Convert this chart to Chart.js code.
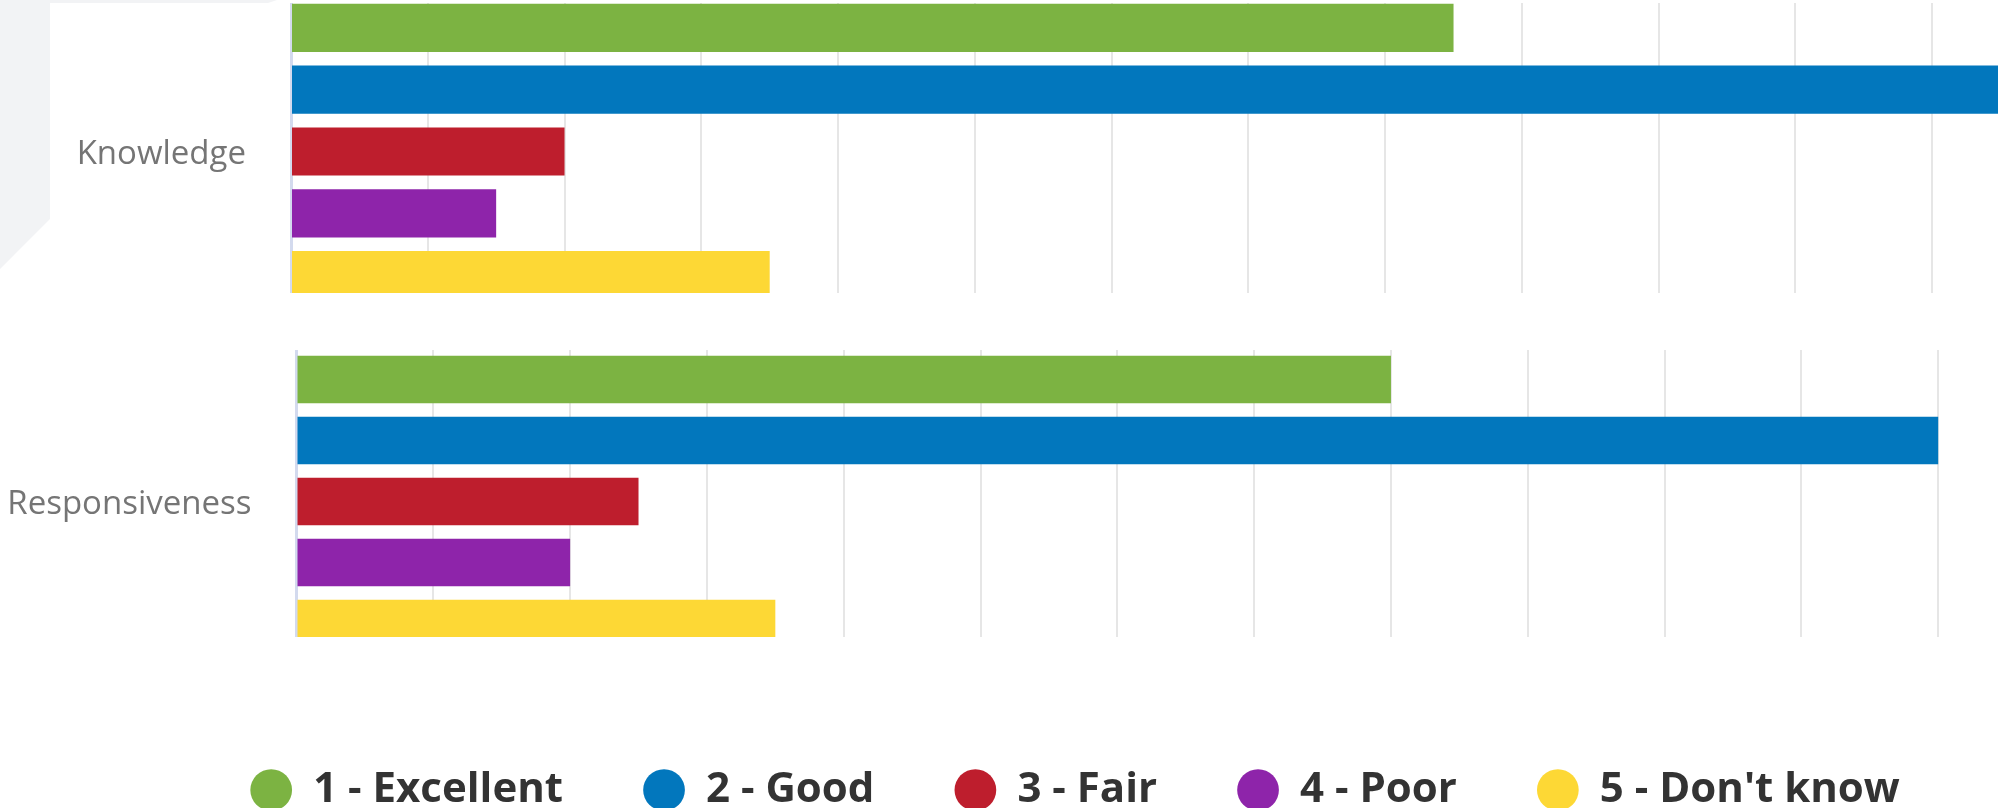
<!DOCTYPE html>
<html>
<head>
<meta charset="utf-8">
<script src="https://cdn.jsdelivr.net/npm/chart.js@4.4.1/dist/chart.umd.min.js"></script>
<style>
  html, body { margin: 0; padding: 0; background: #fff; overflow: hidden; width: 1998px; height: 808px; }
  .deco { position: absolute; left: 0; top: 0; width: 280px; height: 270px; background: #f2f3f5;
    clip-path: polygon(0 0, 277px 0, 268px 3px, 50px 3px, 50px 219px, 0 269px); }
  .panel { position: absolute; left: 0; width: 1998px; overflow: hidden; }
  .panel canvas { position: absolute; left: 0; }
</style>
</head>
<body>
<div class="deco"></div>
<div class="panel" style="top:3px;height:290px"><canvas id="knowledge" width="2069" height="309" style="top:-6px"></canvas></div>
<div class="panel" style="top:350px;height:287px"><canvas id="responsiveness" width="2075" height="305" style="top:-1px"></canvas></div>
<div class="panel" style="top:689px;height:119px"><canvas id="legend" width="2150" height="400" style="top:0"></canvas></div>
<script>
// rating scale + colours
const ratings = ["1 - Excellent", "2 - Good", "3 - Fair", "4 - Poor", "5 - Don't know"];
const colors = ["#7cb342", "#0277bd", "#be1e2d", "#8e24aa", "#fdd835"];

// answer counts per question
const knowledge = [17, 26, 4, 3, 7];
const responsiveness = [16, 24, 5, 4, 7];

// x axis
const xMax = 26;
const xStep = 2;

function makePanel(id, label, values, axisWidth) {
  new Chart(document.getElementById(id), {
    type: 'bar',
    data: {
      labels: [label],
      datasets: ratings.map((r, i) => ({
        label: r,
        data: [values[i]],
        backgroundColor: colors[i],
        borderWidth: 0,
        clip: 0
      }))
    },
    options: {
      indexAxis: 'y',
      responsive: false,
      animation: false,
      layout: { padding: 0, autoPadding: false },
      datasets: { bar: { categoryPercentage: 1, barPercentage: 0.78 } },
      plugins: { legend: { display: false }, tooltip: { enabled: false } },
      scales: {
        x: {
          min: 0, max: xMax,
          ticks: { stepSize: xStep, display: false },
          grid: { color: '#e6e6e6', lineWidth: 2, drawTicks: false },
          border: { display: false },
          afterFit: s => { s.height = 0; s.paddingLeft = 0; s.paddingRight = 0; }
        },
        y: {
          grid: { display: false, drawTicks: false },
          border: { display: true, color: '#d3daee', width: 3 },
          ticks: { padding: 45, labelOffset: 3, color: '#757575', font: { family: 'Open Sans', size: 33 } },
          // fixed axis width, no extra top/bottom padding from the label
          afterFit: s => { s.width = axisWidth; s.paddingTop = 0; s.paddingBottom = 0; }
        }
      }
    }
  });
}

makePanel('knowledge', 'Knowledge', knowledge, 291);
makePanel('responsiveness', 'Responsiveness', responsiveness, 296.5);

// shared legend under both panels
new Chart(document.getElementById('legend'), {
  type: 'bar',
  data: {
    labels: [],
    datasets: ratings.map((r, i) => ({ label: r, data: [], backgroundColor: colors[i], borderWidth: 0 }))
  },
  options: {
    responsive: false,
    animation: false,
    layout: { padding: 0 },
    scales: { x: { display: false }, y: { display: false } },
    plugins: {
      tooltip: { enabled: false },
      legend: {
        position: 'top',
        align: 'center',
        labels: {
          usePointStyle: true,
          pointStyle: 'circle',
          boxWidth: 42,
          boxHeight: 29.5,
          padding: 80,
          color: '#333',
          font: { family: 'Open Sans', size: 42, weight: 'bold' }
        }
      }
    }
  }
});
</script>
</body>
</html>
